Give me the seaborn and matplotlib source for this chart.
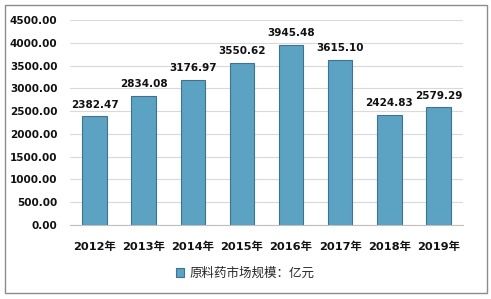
import matplotlib
matplotlib.use("Agg")
import matplotlib.pyplot as plt
import seaborn as sns
import pandas as pd
from matplotlib.patches import Rectangle

years = ["2012年", "2013年", "2014年", "2015年", "2016年", "2017年", "2018年", "2019年"]
values = [2382.47, 2834.08, 3176.97, 3550.62, 3945.48, 3615.10, 2424.83, 2579.29]
series_name = "原料药市场规模：亿元"
yticks = [0, 500, 1000, 1500, 2000, 2500, 3000, 3500, 4000, 4500]

sns.set_theme(style="white")
plt.rcParams['font.family'] = ['DejaVu Sans', 'Noto Sans CJK SC']

df = pd.DataFrame({"year": years, "value": values, "series": series_name})

fig = plt.figure(figsize=(4.91, 2.99), dpi=100)
ax = fig.add_axes([70/491, 1-225/299, (463-70)/491, (225-20)/299])

sns.barplot(data=df, x="year", y="value", hue="series", ax=ax,
            palette=["#5ca2c2"], width=0.5, edgecolor="#3d7390", linewidth=0.8,
            saturation=1)

ax.set_ylim(0, 4500)
ax.set_yticks(yticks)
ax.set_yticklabels([f"{v:.2f}" for v in yticks], fontsize=7.5, fontweight="bold", color="#111111")
ax.tick_params(axis="x", labelsize=8.2, pad=12, length=0)
ax.tick_params(axis="y", length=0, pad=9)
for lbl in ax.get_xticklabels():
    lbl.set_fontweight("bold")
    lbl.set_color("#111111")
ax.set_xlabel("")
ax.set_ylabel("")
ax.yaxis.grid(True, color="#d9d9d9", linewidth=0.8)
ax.set_axisbelow(True)
for s in ["left", "right", "top"]:
    ax.spines[s].set_visible(False)
ax.spines["bottom"].set_color("#bfbfbf")
ax.spines["bottom"].set_linewidth(0.8)

for c in ax.containers:
    ax.bar_label(c, labels=[f"{v:.2f}" for v in values], padding=5,
                 fontsize=7.5, fontweight="bold", color="#111111")

leg = ax.legend(loc="center", bbox_to_anchor=(245/491, 1-273/299),
                bbox_transform=fig.transFigure, frameon=False, fontsize=9,
                handlelength=0.7, handleheight=0.7, handletextpad=0.4)

fig.patches.append(Rectangle((4.5/491, 1-293/299), 482/491, 288.5/299,
                             transform=fig.transFigure, fill=False,
                             edgecolor="#8c8c8c", linewidth=1.0))

fig.savefig("out.png", dpi=100)
